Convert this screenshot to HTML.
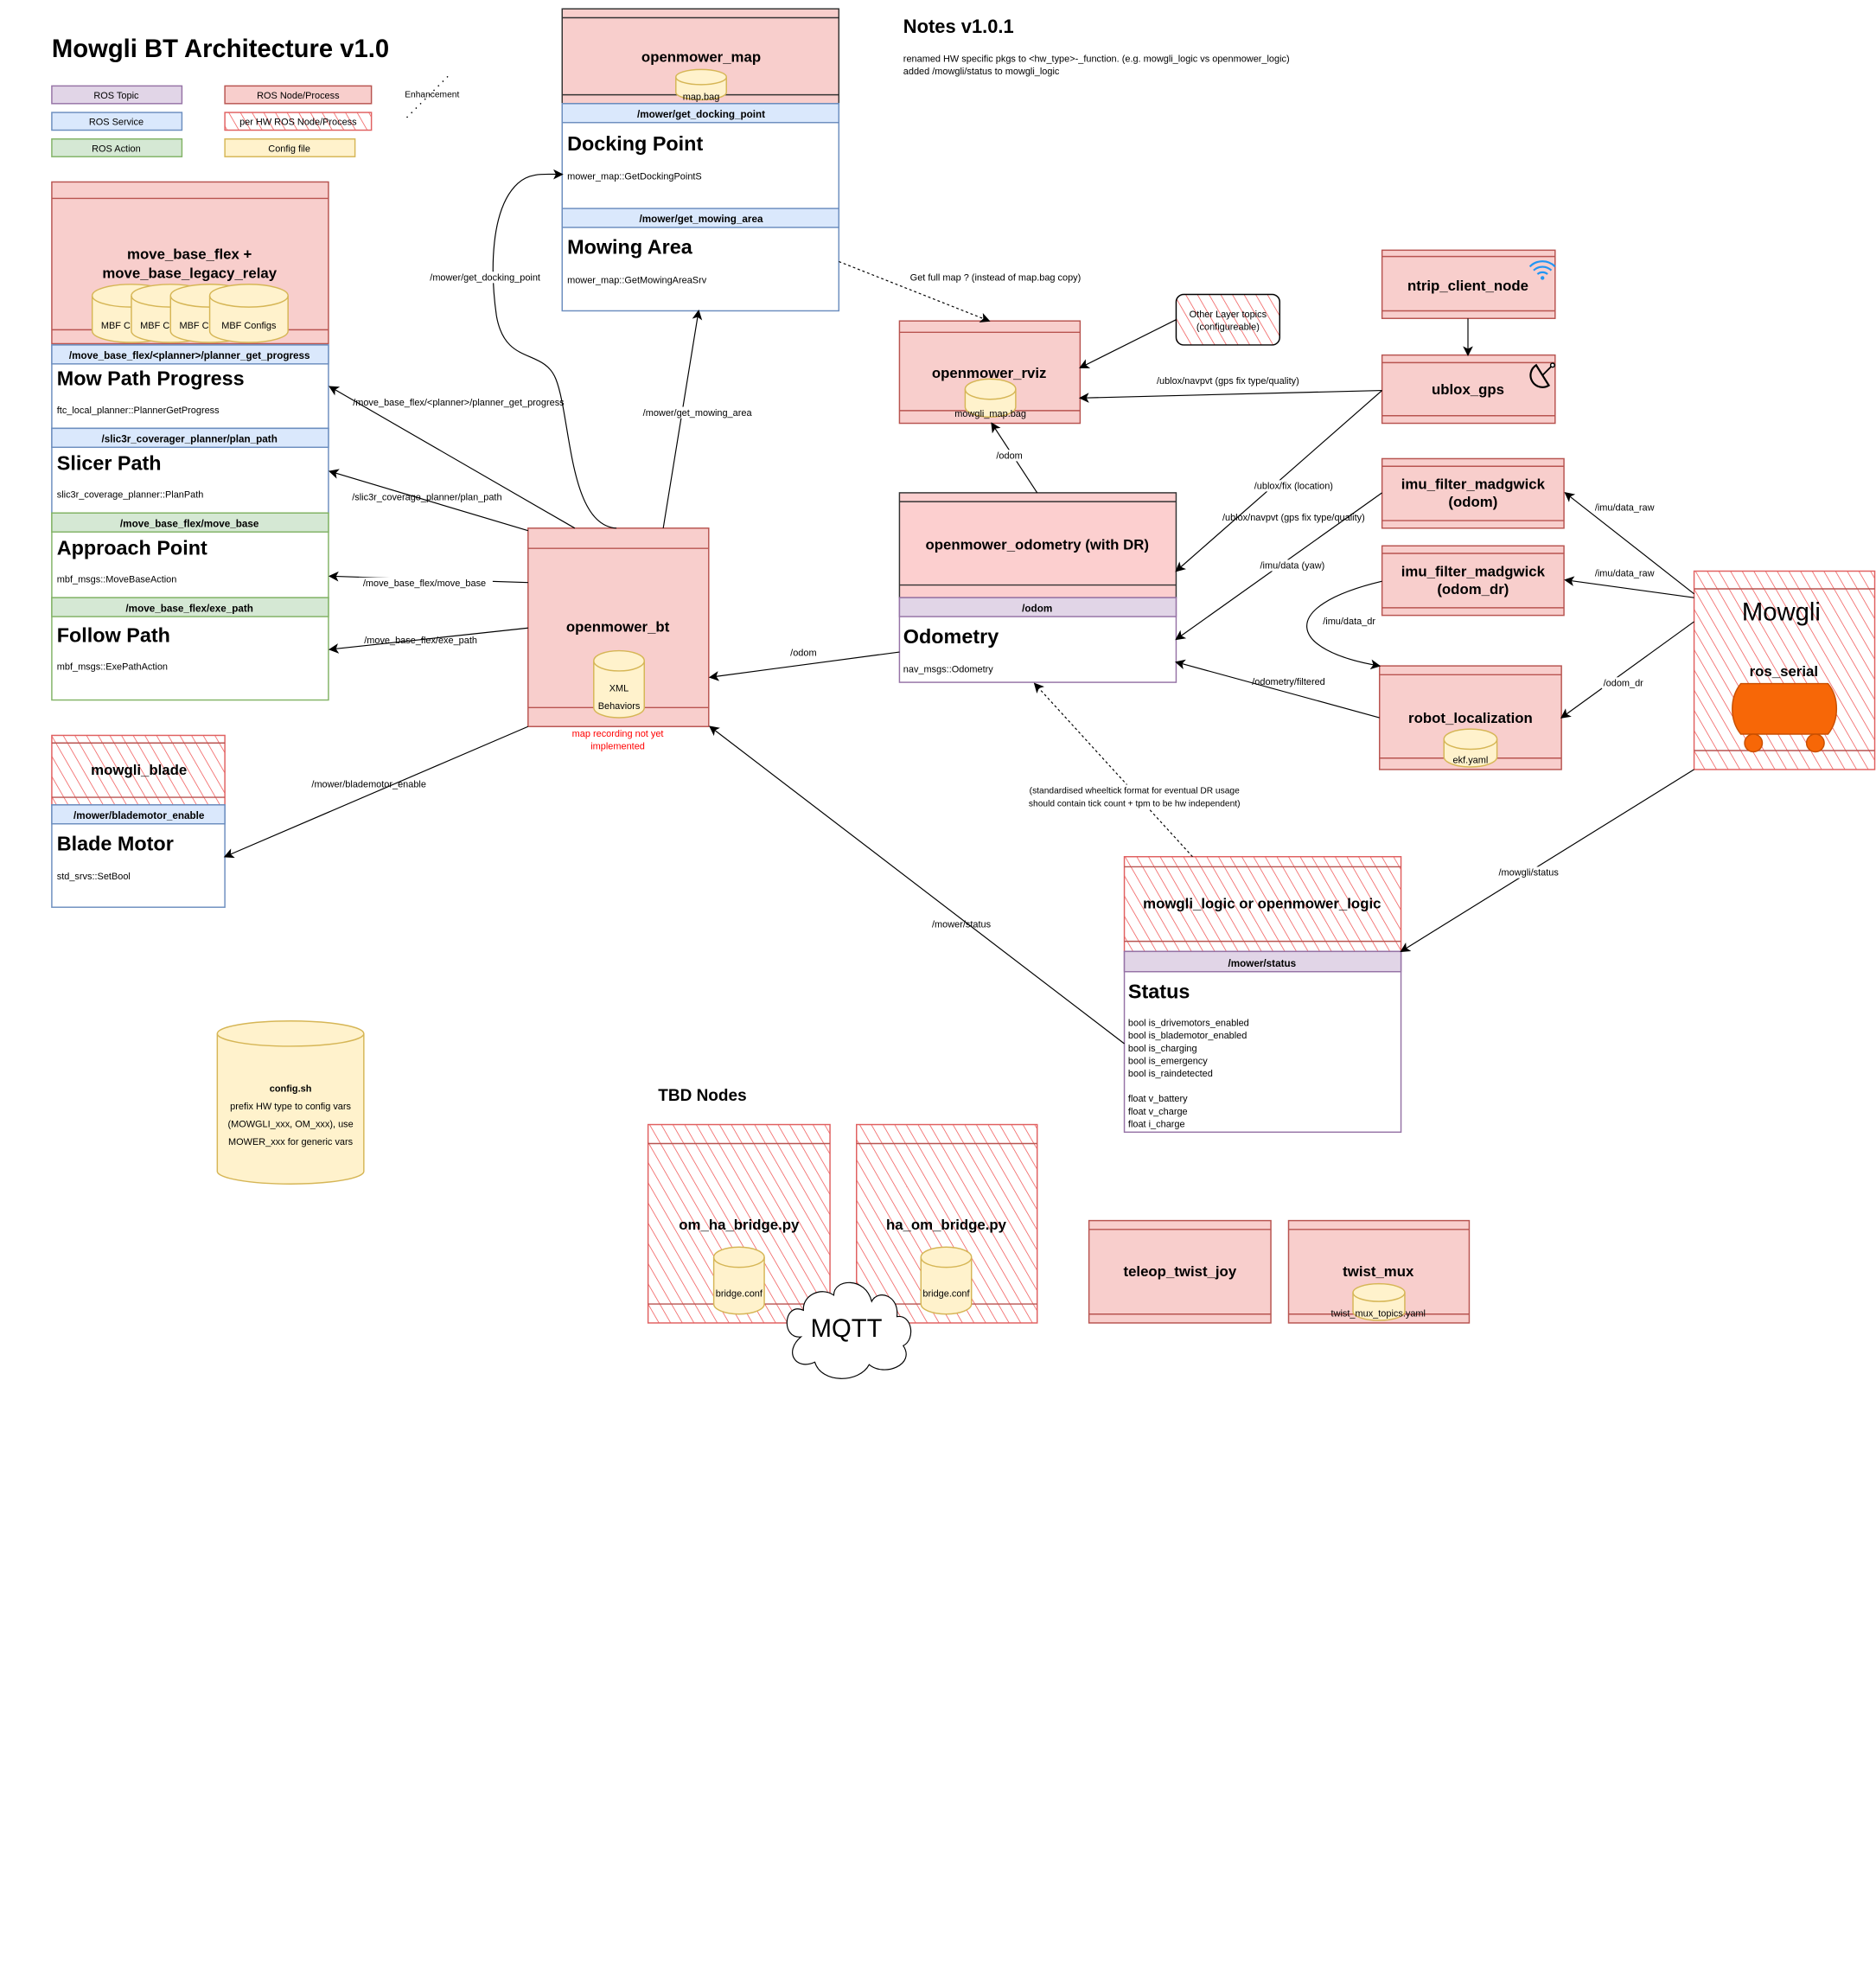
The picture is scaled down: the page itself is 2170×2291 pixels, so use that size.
<!DOCTYPE html>
<html><head><meta charset="utf-8"><style>
html,body{margin:0;padding:0;background:#fff;}
svg{display:block;}
text{font-family:"Liberation Sans",Arial,sans-serif;fill:#000;}
.b{font-weight:bold;}
.s{font-size:7.5px;}
.m{font-size:8px;}
.h{font-size:8px;font-weight:bold;}
.n{font-size:11.5px;font-weight:bold;text-anchor:middle;}
.t{font-size:16px;font-weight:bold;}
.c{text-anchor:middle;}
.pk{fill:#f8cecc;stroke:#b85450;stroke-width:1;}
.hat{fill:url(#hatch);stroke:#e06060;stroke-width:1;}
.ln{stroke:#333;stroke-width:1;fill:none;}
.lr{stroke:#b85450;stroke-width:1;fill:none;}
.cy{fill:#fff2cc;stroke:#d6b656;stroke-width:1;}
.e{stroke:#000;stroke-width:0.8;fill:none;marker-end:url(#ar);}
.d{stroke:#000;stroke-width:0.8;fill:none;stroke-dasharray:2,2;marker-end:url(#ar);}
.lb{font-size:7.5px;text-anchor:middle;}
</style></head><body>
<svg width="2170" height="2291" viewBox="0 0 1485 1567.8" preserveAspectRatio="none" xmlns="http://www.w3.org/2000/svg">
<defs>
<pattern id="hatch" patternUnits="userSpaceOnUse" width="8" height="8" patternTransform="rotate(-30)">
<rect width="8" height="8" fill="#fff"/>
<line x1="0" y1="0" x2="0" y2="8" stroke="#f05050" stroke-width="1"/>
</pattern>
<marker id="ar" markerWidth="8" markerHeight="8" refX="7" refY="4" orient="auto" markerUnits="userSpaceOnUse">
<path d="M0,0 L8,4 L0,8 L2,4 z" fill="#000"/>
</marker>
</defs>

<text x="41" y="45" class="b" style="font-size:20px">Mowgli BT Architecture v1.0</text>
<rect x="41" y="68" width="103" height="14" fill="#e1d5e7" stroke="#9673a6"/><text x="92" y="78" class="s c">ROS Topic</text>
<rect x="41" y="89" width="103" height="14" fill="#dae8fc" stroke="#6c8ebf"/><text x="92" y="99" class="s c">ROS Service</text>
<rect x="41" y="110" width="103" height="14" fill="#d5e8d4" stroke="#82b366"/><text x="92" y="120" class="s c">ROS Action</text>
<rect x="178" y="68" width="116" height="14" class="pk"/><text x="236" y="78" class="s c">ROS Node/Process</text>
<rect x="178" y="89" width="116" height="14" class="hat"/><text x="236" y="99" class="s c">per HW ROS Node/Process</text>
<rect x="178" y="110" width="103" height="14" class="cy"/><text x="229" y="120" class="s c">Config file</text>
<line x1="322" y1="93" x2="355" y2="60" stroke="#000" stroke-width="1" stroke-dasharray="1,4"/>
<text x="342" y="77" class="c" style="font-size:7px">Enhancement</text>

<text x="715" y="26" class="b" style="font-size:15px">Notes v1.0.1</text>
<text x="715" y="49" class="s">renamed HW specific pkgs to &lt;hw_type&gt;-_function. (e.g. mowgli_logic vs openmower_logic)</text>
<text x="715" y="59" class="s">added /mowgli/status to mowgli_logic</text>

<rect x="445" y="7" width="219" height="75" class="pk" style="stroke:#333"/>
<line x1="445" y1="14" x2="664" y2="14" class="ln"/>
<line x1="445" y1="75" x2="664" y2="75" class="ln"/>
<text x="555" y="49" class="n">openmower_map</text>
<path class="cy" d="M535,61 a20,6 0 0,1 40,0 v12 a20,6 0 0,1 -40,0 z"/><path class="cy" style="fill:none" d="M535,61 a20,6 0 0,0 40,0"/>
<text x="555" y="79" class="s c">map.bag</text>
<rect x="445" y="82" width="219" height="164" fill="#fff" stroke="#6c8ebf"/>
<rect x="445" y="82" width="219" height="15" fill="#dae8fc" stroke="#6c8ebf"/>
<text x="555" y="93" class="h c">/mower/get_docking_point</text>
<text x="449" y="119" class="t">Docking Point</text>
<text x="449" y="142" class="s">mower_map::GetDockingPointS</text>
<rect x="445" y="165" width="219" height="15" fill="#dae8fc" stroke="#6c8ebf"/>
<text x="555" y="176" class="h c">/mower/get_mowing_area</text>
<text x="449" y="201" class="t">Mowing Area</text>
<text x="449" y="224" class="s">mower_map::GetMowingAreaSrv</text>

<rect x="41" y="144" width="219" height="128" class="pk"/>
<line x1="41" y1="157" x2="260" y2="157" class="lr"/>
<line x1="41" y1="261" x2="260" y2="261" class="lr"/>
<text x="150" y="205" class="n">move_base_flex +</text>
<text x="150" y="220" class="n">move_base_legacy_relay</text>
<path class="cy" d="M73,234 a31,9 0 0,1 62,0 v28 a31,9 0 0,1 -62,0 z"/><path class="cy" style="fill:none" d="M73,234 a31,9 0 0,0 62,0"/>
<text x="80" y="260" class="s">MBF C</text>
<path class="cy" d="M104,234 a31,9 0 0,1 62,0 v28 a31,9 0 0,1 -62,0 z"/><path class="cy" style="fill:none" d="M104,234 a31,9 0 0,0 62,0"/>
<text x="111" y="260" class="s">MBF C</text>
<path class="cy" d="M135,234 a31,9 0 0,1 62,0 v28 a31,9 0 0,1 -62,0 z"/><path class="cy" style="fill:none" d="M135,234 a31,9 0 0,0 62,0"/>
<text x="142" y="260" class="s">MBF C</text>
<path class="cy" d="M166,234 a31,9 0 0,1 62,0 v28 a31,9 0 0,1 -62,0 z"/><path class="cy" style="fill:none" d="M166,234 a31,9 0 0,0 62,0"/>
<text x="197" y="260" class="s c">MBF Configs</text>

<rect x="41" y="273" width="219" height="66" fill="#fff" stroke="#6c8ebf"/>
<rect x="41" y="273" width="219" height="15" fill="#dae8fc" stroke="#6c8ebf"/>
<text x="150" y="284" class="h c">/move_base_flex/&lt;planner&gt;/planner_get_progress</text>
<text x="45" y="305" class="t">Mow Path Progress</text>
<text x="45" y="327" class="s">ftc_local_planner::PlannerGetProgress</text>
<rect x="41" y="339" width="219" height="67" fill="#fff" stroke="#6c8ebf"/>
<rect x="41" y="339" width="219" height="15" fill="#dae8fc" stroke="#6c8ebf"/>
<text x="150" y="350" class="h c">/slic3r_coverager_planner/plan_path</text>
<text x="45" y="372" class="t">Slicer Path</text>
<text x="45" y="394" class="s">slic3r_coverage_planner::PlanPath</text>
<rect x="41" y="406" width="219" height="67" fill="#fff" stroke="#82b366"/>
<rect x="41" y="406" width="219" height="15" fill="#d5e8d4" stroke="#82b366"/>
<text x="150" y="417" class="h c">/move_base_flex/move_base</text>
<text x="45" y="439" class="t">Approach Point</text>
<text x="45" y="461" class="s">mbf_msgs::MoveBaseAction</text>
<rect x="41" y="473" width="219" height="81" fill="#fff" stroke="#82b366"/>
<rect x="41" y="473" width="219" height="15" fill="#d5e8d4" stroke="#82b366"/>
<text x="150" y="484" class="h c">/move_base_flex/exe_path</text>
<text x="45" y="508" class="t">Follow Path</text>
<text x="45" y="530" class="s">mbf_msgs::ExePathAction</text>

<rect x="418" y="418" width="143" height="157" class="pk"/>
<line x1="418" y1="434" x2="561" y2="434" class="lr"/>
<line x1="418" y1="560" x2="561" y2="560" class="lr"/>
<text x="489" y="500" class="n">openmower_bt</text>
<path class="cy" d="M470,523 a20,8 0 0,1 40,0 v37 a20,8 0 0,1 -40,0 z"/><path class="cy" style="fill:none" d="M470,523 a20,8 0 0,0 40,0"/>
<text x="490" y="547" class="s c">XML</text>
<text x="490" y="561" class="s c">Behaviors</text>
<text x="489" y="583" class="s c" style="fill:#f00">map recording not yet</text>
<text x="489" y="593" class="s c" style="fill:#f00">implemented</text>

<rect x="41" y="582" width="137" height="55" class="hat"/>
<line x1="41" y1="588" x2="178" y2="588" class="lr"/>
<line x1="41" y1="631" x2="178" y2="631" class="lr"/>
<text x="110" y="613" class="n">mowgli_blade</text>
<rect x="41" y="637" width="137" height="81" fill="#fff" stroke="#6c8ebf"/>
<rect x="41" y="637" width="137" height="15" fill="#dae8fc" stroke="#6c8ebf"/>
<text x="110" y="648" class="h c">/mower/blademotor_enable</text>
<text x="45" y="673" class="t">Blade Motor</text>
<text x="45" y="696" class="s">std_srvs::SetBool</text>

<path class="cy" d="M172,818 a58,10 0 0,1 116,0 v109 a58,10 0 0,1 -116,0 z"/><path class="cy" style="fill:none" d="M172,818 a58,10 0 0,0 116,0"/>
<text x="230" y="864" class="s c b">config.sh</text>
<text x="230" y="878" class="s c">prefix HW type to config vars</text>
<text x="230" y="892" class="s c">(MOWGLI_xxx, OM_xxx), use</text>
<text x="230" y="906" class="s c">MOWER_xxx for generic vars</text>

<text x="521" y="871" class="b" style="font-size:13px">TBD Nodes</text>
<rect x="513" y="890" width="144" height="157" class="hat"/>
<line x1="513" y1="905" x2="657" y2="905" class="lr"/>
<line x1="513" y1="1032" x2="657" y2="1032" class="lr"/>
<text x="585" y="973" class="n">om_ha_bridge.py</text>
<path class="cy" d="M565,995 a20,8 0 0,1 40,0 v37 a20,8 0 0,1 -40,0 z"/><path class="cy" style="fill:none" d="M565,995 a20,8 0 0,0 40,0"/>
<text x="585" y="1026" class="s c">bridge.conf</text>
<rect x="678" y="890" width="143" height="157" class="hat"/>
<line x1="678" y1="905" x2="821" y2="905" class="lr"/>
<line x1="678" y1="1032" x2="821" y2="1032" class="lr"/>
<text x="749" y="973" class="n">ha_om_bridge.py</text>
<path class="cy" d="M729,995 a20,8 0 0,1 40,0 v37 a20,8 0 0,1 -40,0 z"/><path class="cy" style="fill:none" d="M729,995 a20,8 0 0,0 40,0"/>
<text x="749" y="1026" class="s c">bridge.conf</text>
<path d="M636,1037 C620,1030 618,1060 634,1058 C620,1070 630,1085 645,1078 C650,1095 680,1095 688,1080 C700,1090 725,1080 715,1065 C725,1060 722,1040 710,1042 C712,1025 695,1020 690,1030 C685,1010 660,1012 660,1025 C650,1018 635,1025 636,1037 z" fill="#fff" stroke="#000" stroke-width="0.8"/>
<text x="670" y="1058" class="c" style="font-size:20px">MQTT</text>

<rect x="862" y="966" width="144" height="81" class="pk"/>
<line x1="862" y1="973" x2="1006" y2="973" class="lr"/>
<line x1="862" y1="1040" x2="1006" y2="1040" class="lr"/>
<text x="934" y="1010" class="n">teleop_twist_joy</text>
<rect x="1020" y="966" width="143" height="81" class="pk"/>
<line x1="1020" y1="973" x2="1163" y2="973" class="lr"/>
<line x1="1020" y1="1040" x2="1163" y2="1040" class="lr"/>
<text x="1091" y="1010" class="n">twist_mux</text>
<path class="cy" d="M1071,1023 a20.5,7 0 0,1 41,0 v15 a20.5,7 0 0,1 -41,0 z"/><path class="cy" style="fill:none" d="M1071,1023 a20.5,7 0 0,0 41,0"/>
<text x="1091" y="1042" class="s c">twist_mux_topics.yaml</text>

<rect x="712" y="254" width="143" height="81" class="pk"/>
<line x1="712" y1="263" x2="855" y2="263" class="lr"/>
<line x1="712" y1="325" x2="855" y2="325" class="lr"/>
<text x="783" y="299" class="n">openmower_rviz</text>
<path class="cy" d="M764,308 a20,8 0 0,1 40,0 v14 a20,8 0 0,1 -40,0 z"/><path class="cy" style="fill:none" d="M764,308 a20,8 0 0,0 40,0"/>
<text x="784" y="330" class="s c">mowgli_map.bag</text>

<rect x="931" y="233" width="82" height="40" rx="6" class="hat" style="stroke:#000"/>
<text x="972" y="251" class="s c">Other Layer topics</text>
<text x="972" y="261" class="s c">(configureable)</text>

<rect x="1094" y="198" width="137" height="54" class="pk"/>
<line x1="1094" y1="203" x2="1231" y2="203" class="lr"/>
<line x1="1094" y1="246" x2="1231" y2="246" class="lr"/>
<text x="1162" y="230" class="n">ntrip_client_node</text>
<g fill="none" stroke="#2196f3" stroke-width="1.5">
<path d="M1211,211 a14,14 0 0,1 20,0"/><path d="M1214,214 a10,10 0 0,1 14,0"/><path d="M1217,217 a6,6 0 0,1 8,0"/></g>
<circle cx="1221" cy="220" r="1.5" fill="#2196f3"/>

<rect x="1094" y="281" width="137" height="54" class="pk"/>
<line x1="1094" y1="287" x2="1231" y2="287" class="lr"/>
<line x1="1094" y1="329" x2="1231" y2="329" class="lr"/>
<text x="1162" y="312" class="n">ublox_gps</text>
<path d="M1216,289 a9,9 0 0,0 10,16 z" fill="none" stroke="#000" stroke-width="1.5"/>
<line x1="1221" y1="297" x2="1228" y2="290" stroke="#000" stroke-width="1.2"/><circle cx="1229" cy="289" r="1.6" fill="#fff" stroke="#000"/>

<rect x="1094" y="363" width="144" height="55" class="pk"/>
<line x1="1094" y1="369" x2="1238" y2="369" class="lr"/>
<line x1="1094" y1="412" x2="1238" y2="412" class="lr"/>
<text x="1166" y="387" class="n">imu_filter_madgwick</text>
<text x="1166" y="401" class="n">(odom)</text>
<rect x="1094" y="432" width="144" height="55" class="pk"/>
<line x1="1094" y1="438" x2="1238" y2="438" class="lr"/>
<line x1="1094" y1="481" x2="1238" y2="481" class="lr"/>
<text x="1166" y="456" class="n">imu_filter_madgwick</text>
<text x="1166" y="470" class="n">(odom_dr)</text>

<rect x="1092" y="527" width="144" height="82" class="pk"/>
<line x1="1092" y1="534" x2="1236" y2="534" class="lr"/>
<line x1="1092" y1="600" x2="1236" y2="600" class="lr"/>
<text x="1164" y="572" class="n">robot_localization</text>
<path class="cy" d="M1143,585 a21,8 0 0,1 42,0 v14 a21,8 0 0,1 -42,0 z"/><path class="cy" style="fill:none" d="M1143,585 a21,8 0 0,0 42,0"/>
<text x="1164" y="604" class="s c">ekf.yaml</text>

<rect x="1341" y="452" width="143" height="157" class="hat"/>
<line x1="1341" y1="466" x2="1484" y2="466" class="lr"/>
<line x1="1341" y1="594" x2="1484" y2="594" class="lr"/>
<text x="1410" y="491" class="c" style="font-size:20px">Mowgli</text>
<text x="1412" y="535" class="n">ros_serial</text>
<path d="M1378,541 L1447,541 C1456,552 1456,570 1447,581 L1378,581 C1369,570 1369,552 1378,541 z" fill="#f76707" stroke="#c94f00"/>
<circle cx="1388" cy="588" r="7" fill="#f76707" stroke="#c94f00"/>
<circle cx="1437" cy="588" r="7" fill="#f76707" stroke="#c94f00"/>

<rect x="712" y="390" width="219" height="83" class="pk" style="fill:#fccfcf;stroke:#333"/>
<line x1="712" y1="397" x2="931" y2="397" class="ln"/>
<line x1="712" y1="463" x2="931" y2="463" class="ln"/>
<text x="821" y="435" class="n">openmower_odometry (with DR)</text>
<rect x="712" y="473" width="219" height="67" fill="#fff" stroke="#9673a6"/>
<rect x="712" y="473" width="219" height="15" fill="#e1d5e7" stroke="#9673a6"/>
<text x="821" y="484" class="h c">/odom</text>
<text x="715" y="509" class="t">Odometry</text>
<text x="715" y="532" class="s">nav_msgs::Odometry</text>

<rect x="890" y="678" width="219" height="75" class="hat"/>
<line x1="890" y1="686" x2="1109" y2="686" class="lr"/>
<line x1="890" y1="745" x2="1109" y2="745" class="lr"/>
<text x="999" y="719" class="n">mowgli_logic or openmower_logic</text>
<rect x="890" y="753" width="219" height="143" fill="#fff" stroke="#9673a6"/>
<rect x="890" y="753" width="219" height="16" fill="#e1d5e7" stroke="#9673a6"/>
<text x="999" y="765" class="h c">/mower/status</text>
<text x="893" y="790" class="t">Status</text>
<text x="893" y="812" class="s">bool is_drivemotors_enabled</text>
<text x="893" y="822" class="s">bool is_blademotor_enabled</text>
<text x="893" y="832" class="s">bool is_charging</text>
<text x="893" y="842" class="s">bool is_emergency</text>
<text x="893" y="852" class="s">bool is_raindetected</text>
<text x="893" y="872" class="s">float v_battery</text>
<text x="893" y="882" class="s">float v_charge</text>
<text x="893" y="892" class="s">float i_charge</text>

<path class="e" d="M488,418 C450,416 452,330 440,300 C430,275 400,290 393,250 C388,215 388,165 410,145 C420,136 432,138 445,138"/>
<path class="e" d="M525,418 L553,246"/>
<path class="e" d="M455,418 L261,306"/>
<path class="e" d="M418,420 L261,373"/>
<path class="e" d="M418,461 L261,456"/>
<path class="e" d="M418,497 L261,514"/>
<path class="e" d="M418,575 L178,678"/>
<path class="e" d="M712,516 L562,536"/>
<path class="e" d="M890,826 L562,575"/>
<path class="d" d="M664,207 L783,254"/>
<path class="e" d="M931,253 L855,291"/>
<path class="e" d="M1094,309 L855,315"/>
<path class="e" d="M1162,252 L1162,281"/>
<path class="e" d="M821,390 L785,335"/>
<path class="e" d="M1094,309 L931,452"/>
<path class="e" d="M1094,390 L931,506"/>
<path class="e" d="M1094,460 C1010,480 1020,515 1092,527"/>
<path class="e" d="M1092,568 L931,524"/>
<path class="e" d="M1341,470 L1239,390"/>
<path class="e" d="M1341,473 L1239,459"/>
<path class="e" d="M1341,492 L1236,568"/>
<path class="e" d="M1341,609 L1109,753"/>
<path class="d" d="M944,678 L819,541"/>

<g>
<rect x="335" y="215" width="98" height="9" fill="#fff"/><text x="384" y="222" class="lb">/mower/get_docking_point</text>
<rect x="505" y="322" width="95" height="9" fill="#fff"/><text x="552" y="329" class="lb">/mower/get_mowing_area</text>
<text x="363" y="321" class="lb">/move_base_flex/&lt;planner&gt;/planner_get_progress</text>
<text x="338" y="396" class="lb">/slic3r_coverage_planner/plan_path</text>
<rect x="284" y="457" width="106" height="9" fill="#fff"/><text x="336" y="464" class="lb">/move_base_flex/move_base</text>
<text x="333" y="509" class="lb">/move_base_flex/exe_path</text>
<text x="292" y="623" class="lb">/mower/blademotor_enable</text>
<text x="636" y="519" class="lb">/odom</text>
<text x="761" y="734" class="lb">/mower/status</text>
<rect x="712" y="215" width="150" height="9" fill="#fff"/><text x="788" y="222" class="lb">Get full map ? (instead of map.bag copy)</text>
<text x="972" y="304" class="lb">/ublox/navpvt (gps fix type/quality)</text>
<rect x="786" y="356" width="26" height="9" fill="#fff"/><text x="799" y="363" class="lb">/odom</text>
<rect x="988" y="380" width="72" height="9" fill="#fff"/><text x="1024" y="387" class="lb">/ublox/fix (location)</text>
<text x="1024" y="412" class="lb">/ublox/navpvt (gps fix type/quality)</text>
<rect x="995" y="443" width="58" height="9" fill="#fff"/><text x="1023" y="450" class="lb">/imu/data (yaw)</text>
<rect x="1045" y="487" width="46" height="9" fill="#fff"/><text x="1068" y="494" class="lb">/imu/data_dr</text>
<text x="1020" y="542" class="lb">/odometry/filtered</text>
<rect x="1260" y="397" width="52" height="9" fill="#fff"/><text x="1286" y="404" class="lb">/imu/data_raw</text>
<rect x="1260" y="449" width="52" height="9" fill="#fff"/><text x="1286" y="456" class="lb">/imu/data_raw</text>
<rect x="1268" y="536" width="34" height="9" fill="#fff"/><text x="1285" y="543" class="lb">/odom_dr</text>
<rect x="1183" y="686" width="54" height="9" fill="#fff"/><text x="1210" y="693" class="lb">/mowgli/status</text>
<rect x="806" y="621" width="183" height="19" fill="#fff"/>
<text x="898" y="628" class="lb" style="font-size:7px">(standardised wheeltick  format for eventual DR usage</text>
<text x="898" y="638" class="lb" style="font-size:7px">should contain tick count + tpm to be hw independent)</text>
</g>
</svg>
</body></html>
